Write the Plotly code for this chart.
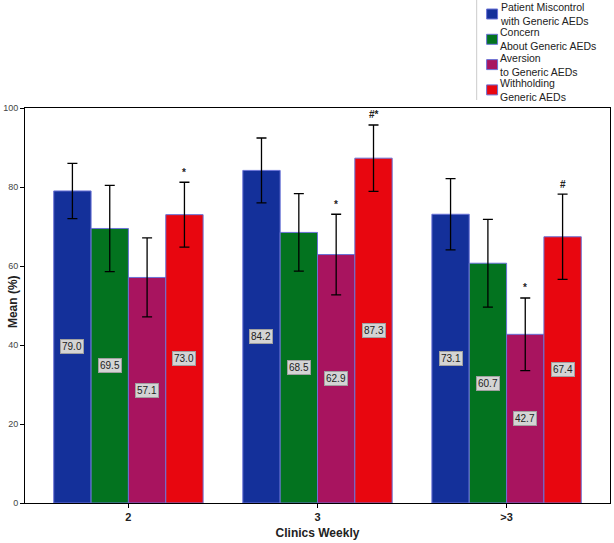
import plotly.graph_objects as go

categories = ["2", "3", ">3"]
series_names = [
    ["Patient Miscontrol", "with Generic AEDs"],
    ["Concern", "About Generic AEDs"],
    ["Aversion", "to Generic AEDs"],
    ["Withholding", "Generic AEDs"],
]
means = [
    [79.0, 84.2, 73.1],
    [69.5, 68.5, 60.7],
    [57.1, 62.9, 42.7],
    [73.0, 87.3, 67.4],
]
errors = [
    [7.0, 8.2, 9.0],
    [10.9, 9.8, 11.1],
    [10.0, 10.2, 9.2],
    [8.2, 8.4, 10.8],
]
markers = [
    ["", "", ""],
    ["", "", ""],
    ["", "*", "*"],
    ["*", "#*", "#"],
]
colors = ["#14309a", "#03731f", "#a8145f", "#e8060f"]

FONT = "Liberation Sans, Arial"
W, H = 614, 543
ML, MR, MT, MB = 23, 3, 108, 40
PW, PH = W - ML - MR, H - MT - MB

def px(xp):
    return (xp - ML) / PW

def py(yp):
    return (H - MB - yp) / PH

bargap = 0.21
nser = len(series_names)
bw = (1 - bargap) / nser
xpos = list(range(len(categories)))

fig = go.Figure()
annotations = []
shapes = []
for j in range(nser):
    fig.add_trace(go.Bar(
        x=xpos, y=means[j], name=" ".join(series_names[j]), showlegend=False,
        marker=dict(color=colors[j], line=dict(color="#6a72d6", width=1)),
        error_y=dict(type="data", array=errors[j], color="black", thickness=1.3, width=5),
    ))
    for i in xpos:
        xc = i + (j - (nser - 1) / 2) * bw
        annotations.append(dict(
            x=xc, y=means[j][i] / 2, xref="x", yref="y", text=f"{means[j][i]:.1f}",
            showarrow=False, font=dict(size=10, color="#222", family=FONT),
            bgcolor="#d4d4d4", bordercolor="#a0a0a0", borderwidth=1, borderpad=1,
        ))
        if markers[j][i]:
            annotations.append(dict(
                x=xc, y=means[j][i] + errors[j][i], xref="x", yref="y", text=f"<b>{markers[j][i]}</b>",
                showarrow=False, yshift=10, font=dict(size=10, color="#222", family=FONT),
            ))

# manual legend (swatches + two-line labels)
for k in range(nser):
    cy = 14 + 25.3 * k
    shapes.append(dict(type="rect", xref="paper", yref="paper",
                       x0=px(487), x1=px(498), y0=py(cy + 5), y1=py(cy - 5),
                       fillcolor=colors[k], line=dict(color="#6a72d6", width=1)))
    annotations.append(dict(
        x=px(499), y=py(cy), xref="paper", yref="paper",
        text="<br>".join(series_names[k]), showarrow=False, xanchor="left", yanchor="middle",
        align="left", borderpad=0,
        font=dict(size=10.5, color="#222", family=FONT),
    ))
shapes.append(dict(type="line", xref="paper", yref="paper", x0=px(477), x1=px(477),
                   y0=py(100), y1=py(0), line=dict(color="#cccccc", width=1)))

annotations.append(dict(
    x=px(11), y=py(302), xref="paper", yref="paper", text="<b>Mean (%)</b>", textangle=-90,
    showarrow=False, font=dict(size=12, color="#222", family=FONT),
    xanchor="center", yanchor="middle",
))

fig.update_layout(
    width=W, height=H,
    margin=dict(l=ML, r=MR, t=MT, b=MB),
    paper_bgcolor="white", plot_bgcolor="white",
    barmode="group", bargap=bargap, bargroupgap=0,
    font=dict(family=FONT, color="#222"),
    showlegend=False,
    xaxis=dict(
        range=[-0.547, 2.547], tickmode="array", tickvals=xpos,
        ticktext=[f"<b>{c}</b>" for c in categories],
        showline=True, linecolor="black", linewidth=1, mirror=True,
        ticks="outside", ticklen=4, tickcolor="black",
        tickfont=dict(size=11, color="#222"), showgrid=False, zeroline=False,
        title=dict(text="<b>Clinics Weekly</b>", font=dict(size=12, color="#222"), standoff=6),
    ),
    yaxis=dict(
        range=[0, 100], tickvals=[0, 20, 40, 60, 80, 100],
        showline=True, linecolor="black", linewidth=1, mirror=True,
        ticks="outside", ticklen=4, tickcolor="black",
        tickfont=dict(size=9, color="#444"), showgrid=False, zeroline=False,
    ),
    annotations=annotations,
    shapes=shapes,
)

fig.write_html("out.html")
